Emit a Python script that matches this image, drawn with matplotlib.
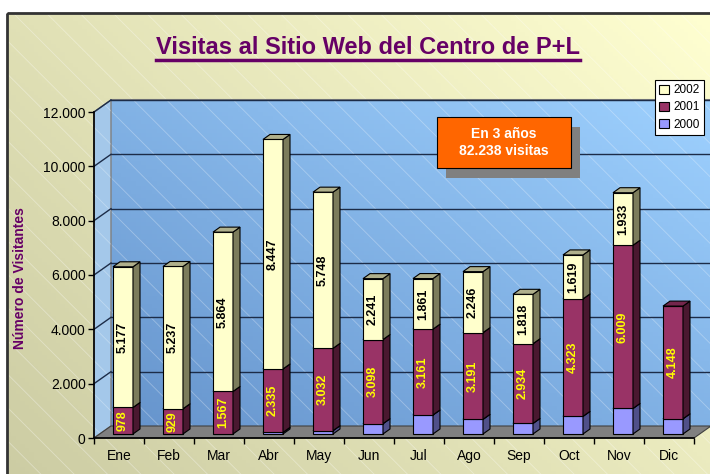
import numpy as np
import matplotlib.pyplot as plt
from matplotlib.patches import Polygon, Rectangle, Patch

plt.rcParams['font.family'] = ['Liberation Sans', 'DejaVu Sans']
plt.rcParams['hatch.linewidth'] = 0.6

# Data
meses = ['Ene', 'Feb', 'Mar', 'Abr', 'May', 'Jun', 'Jul', 'Ago', 'Sep', 'Oct', 'Nov', 'Dic']
v2000 = [0, 0, 0, 60, 122, 380, 700, 540, 390, 650, 940, 560]
v2001 = [978, 929, 1567, 2335, 3032, 3098, 3161, 3191, 2934, 4323, 6009, 4148]
v2002 = [5177, 5237, 5864, 8447, 5748, 2241, 1861, 2246, 1818, 1619, 1933, 0]
anios = ['2000', '2001', '2002']
yticks = [0, 2000, 4000, 6000, 8000, 10000, 12000]
titulo = 'Visitas al Sitio Web del Centro de P+L'
nota = 'En 3 años\n82.238 visitas'


def fmt(v):
  return f'{v:,}'.replace(',', '.')


def main():
  W, H = 710, 474
  fig = plt.figure(figsize=(7.1, 4.74), dpi=100)

  # Background (pixel coords)
  bg = fig.add_axes([0, 0, 1, 1])
  bg.set_xlim(0, W)
  bg.set_ylim(H, 0)
  bg.axis('off')
  yy, xx = np.mgrid[0:1:120j, 0:1:160j]
  t = np.clip(0.6 * xx + 0.4 * (1 - yy), 0, 1)[..., None]
  c0 = np.array([0.80, 0.80, 0.64])
  c1 = np.array([1.0, 1.0, 0.82])
  bg.imshow(c0 + (c1 - c0) * t, extent=(7, W + 5, H + 5, 13), aspect='auto', zorder=0)
  bg.add_patch(Rectangle((7, 13), W, H, fill=False, hatch='\\', edgecolor=(1, 1, 1, 0.35), lw=0, zorder=1))
  bg.add_patch(Rectangle((7, 13), W + 10, H + 10, fill=False, edgecolor='#333333', lw=2, zorder=2))
  bg.set_xlim(0, W)
  bg.set_ylim(H, 0)

  # Main axes
  ax = fig.add_axes([94 / W, 36 / H, 600 / W, 326 / H])
  ax.patch.set_visible(False)
  ux = 12 / 600.0
  uy = 12000 / 326.0
  DX, DY = 17 * ux, 12 * uy
  xr = 12.5

  # back wall
  gy, gx = np.mgrid[0:1:80j, 0:1:120j]
  tb = np.clip(0.5 * gx + 0.5 * (1 - gy), 0, 1)[..., None]
  b0 = np.array([0.40, 0.58, 0.80])
  b1 = np.array([0.62, 0.82, 1.0])
  ax.imshow(b0 + (b1 - b0) * tb, extent=(DX, xr, DY, 12000 + DY), aspect='auto',
            clip_on=False, zorder=0)
  ax.add_patch(Rectangle((DX, DY), xr - DX, 12000, fill=False, hatch='\\',
                         edgecolor=(1, 1, 1, 0.3), lw=0, clip_on=False, zorder=0.5))
  # left wall
  ax.add_patch(Polygon([(0, 0), (DX, DY), (DX, 12000 + DY), (0, 12000)], closed=True,
                       facecolor='#a4c8ea', edgecolor='#808080', lw=1, clip_on=False, zorder=0.6))
  ax.add_patch(Polygon([(0, 0), (DX, DY), (DX, 12000 + DY), (0, 12000)], closed=True,
                       fill=False, hatch='\\', edgecolor=(1, 1, 1, 0.3), lw=0, clip_on=False, zorder=0.7))
  ax.plot([DX, xr], [12000 + DY] * 2, color='#808080', lw=1.5, clip_on=False, zorder=0.8)
  for v in yticks[1:]:
    ax.plot([DX, xr], [v + DY] * 2, color='#1c2c48', lw=1, clip_on=False, zorder=0.8)
    ax.plot([0, DX], [v, v + DY], color='#1c2c48', lw=1, clip_on=False, zorder=0.8)
  # floor
  ax.add_patch(Polygon([(0, 0), (12, 0), (12 + DX, DY), (DX, DY)], closed=True,
                       facecolor='#808080', edgecolor='#404040', lw=0.8, clip_on=False, zorder=0.9))

  # bars
  x = np.arange(12) + 0.5
  bw = 20 * ux
  sx, sy = 4 * ux, 4 * uy
  bdx, bdy = 7 * ux, 5 * uy
  series = [(v2000, '#9999ff', '#50508a', '#7878c8', None),
            (v2001, '#993366', '#4a1830', '#74264c', '#ffff00'),
            (v2002, '#ffffcc', '#7c7c5c', '#b0b08c', 'black')]
  base = np.zeros(12)
  for k, (vals, cf, cs, ct, cl) in enumerate(series):
    vals = np.array(vals, dtype=float)
    z = 3 + k
    ax.bar(x + sx, vals, width=bw, bottom=base + sy, color=cf, edgecolor='black',
           lw=0.8, zorder=z, clip_on=False)
    for i in range(12):
      if vals[i] <= 0:
        continue
      x1 = x[i] + sx + bw / 2
      x0 = x[i] + sx - bw / 2
      b = base[i] + sy
      tp = base[i] + vals[i] + sy
      ax.add_patch(Polygon([(x1, b), (x1 + bdx, b + bdy), (x1 + bdx, tp + bdy), (x1, tp)],
                           closed=True, facecolor=cs, edgecolor='black', lw=0.8,
                           zorder=z, clip_on=False))
      ax.add_patch(Polygon([(x0, tp), (x0 + bdx, tp + bdy), (x1 + bdx, tp + bdy), (x1, tp)],
                           closed=True, facecolor=ct, edgecolor='black', lw=0.8,
                           zorder=z, clip_on=False))
      if cl is not None:
        ax.text(x[i] + sx, b + vals[i] / 2, fmt(int(vals[i])), rotation=90, ha='center',
                va='center', fontsize=9, fontweight='bold', color=cl, zorder=10)
    base = base + vals

  ax.set_xlim(0, 12)
  ax.set_ylim(0, 12000)
  ax.set_yticks(yticks)
  ax.set_yticklabels([fmt(v) for v in yticks], fontsize=10)
  ax.set_xticks(x)
  ax.set_xticklabels(meses, fontsize=10)
  ax.set_xticks(np.arange(13), minor=True)
  ax.tick_params(axis='x', which='major', length=0, pad=8)
  ax.tick_params(axis='x', which='minor', length=4, direction='out', width=1)
  ax.tick_params(axis='y', length=4, direction='out', width=1, pad=2)
  for s in ['top', 'right']:
    ax.spines[s].set_visible(False)
  for s in ['left', 'bottom']:
    ax.spines[s].set_linewidth(1.2)
    ax.spines[s].set_zorder(2)

  # Overlay: title, labels, note, legend
  ov = fig.add_axes([0, 0, 1, 1])
  ov.set_xlim(0, W)
  ov.set_ylim(H, 0)
  ov.axis('off')
  tt = ov.text(368, 47, titulo, ha='center', va='center', fontsize=17,
               fontweight='bold', color='#660066')
  ov.text(20, 278, 'Número de Visitantes', rotation=90, ha='center', va='center',
          fontsize=10, fontweight='bold', color='#660066')
  ov.add_patch(Rectangle((446, 127), 134, 51, facecolor='#808080', edgecolor='none'))
  ov.add_patch(Rectangle((437, 117), 134, 51, facecolor='#ff6600', edgecolor='black', lw=0.8))
  ov.text(504, 142.5, nota, ha='center', va='center', fontsize=10, fontweight='bold',
          color='white', linespacing=1.3)

  handles = [Patch(facecolor=series[k][1], edgecolor='black', lw=0.8) for k in (2, 1, 0)]
  leg = fig.legend(handles, [anios[k] for k in (2, 1, 0)], loc='upper left',
                   bbox_to_anchor=(655 / W, 1 - 80 / H), fontsize=8.5, frameon=True,
                   fancybox=False, edgecolor='black', facecolor='white', framealpha=1,
                   handlelength=0.8, handleheight=0.8, handletextpad=0.4,
                   labelspacing=0.45, borderpad=0.35, borderaxespad=0)
  leg.get_frame().set_linewidth(0.8)

  fig.canvas.draw()
  bb = tt.get_window_extent().transformed(ov.transData.inverted())
  ov.plot([bb.x0, bb.x1], [bb.y0 + 1, bb.y0 + 1], color='#660066', lw=2.5)
  ov.set_xlim(0, W)
  ov.set_ylim(H, 0)

  plt.savefig('out.png', dpi=100)


if __name__ == '__main__':
  main()
